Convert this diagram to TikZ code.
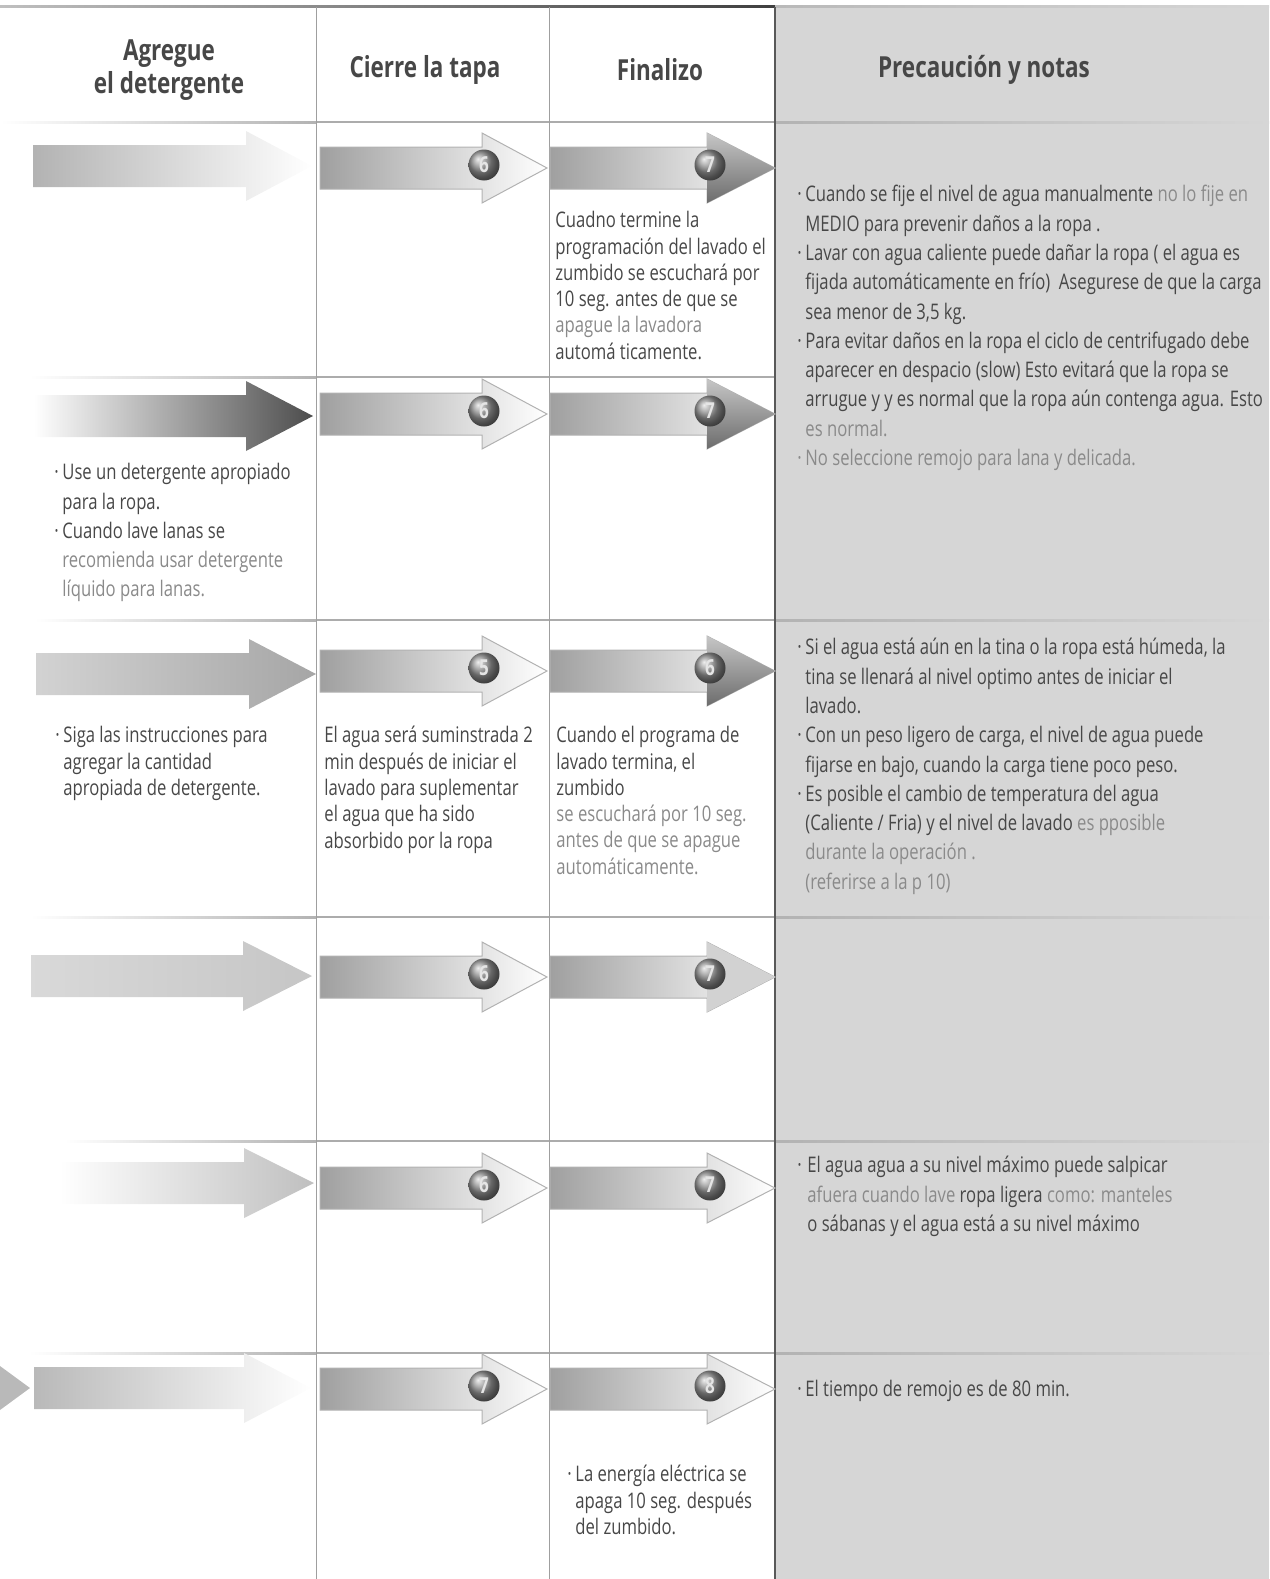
\documentclass[tikz,border=0pt]{standalone}
\usepackage{fontspec}
\setmainfont{Open Sans}[FakeStretch=0.775]
\definecolor{notegray}{HTML}{D6D6D6}
\definecolor{inkgray}{HTML}{474747}
\definecolor{softgray}{HTML}{8A8A8A}
\newcommand{\bul}{\makebox[4pt][l]{·}}
\newcommand{\ind}{\hspace*{4pt}}

\begin{document}
\begin{tikzpicture}[x=0.5pt, y=-0.5pt,
    vrule/.style={draw=gray!75, line width=0.5pt},
    hrule/.style={draw=gray!65, line width=0.8pt},
    head/.style={text=inkgray, font=\bfseries\fontsize{14.5}{16.5}\selectfont, align=center},
    note/.style={anchor=north west, inner sep=0pt, align=left, text=inkgray, font=\fontsize{10.75}{14.65}\selectfont},
    cell/.style={note, font=\fontsize{10.75}{13.15}\selectfont},
    stepshape/.style={left color=gray!75, right color=white, draw=gray!60, line width=0.5pt},
    darkhead/.style={top color=gray!45, bottom color=gray!85!black},
    lighthead/.style={fill=gray!35},
    plainhead/.style={},
    badge/.style={circle, inner sep=0pt, minimum size=15.5pt, shade, ball color=gray!85,
                  text=white!80!gray, font=\bfseries\fontsize{11}{11}\selectfont}]
  \useasboundingbox (0,0) rectangle (1269,1579);

  % notes column
  \fill[notegray] (775,7) rectangle (1269,1579);

  % rules
  \shade[left color=gray!50, right color=black!75] (0,5) rectangle (775,7);
  \shade[left color=gray!55, right color=notegray] (775,5) rectangle (1269,7);
  \shade[left color=white, right color=gray!60] (0,121) rectangle (316,123);
  \draw[hrule] (316,122) -- (775,122);
  \shade[left color=gray!60, middle color=black!80, right color=notegray] (775,121) rectangle (1269,123);
  \foreach \y/\s in {377/30, 620/35, 917/31, 1141/65, 1353/29}{
    \shade[left color=white, right color=gray!60] (\s,\y-1) rectangle (316,\y+1);
    \draw[hrule] (316,\y) -- (775,\y);
  }
  \foreach \y in {620, 917, 1141, 1353}
    \shade[left color=gray!60, middle color=black!80, right color=notegray] (775,\y-1) rectangle (1269,\y+1);
  \draw[vrule] (316,7) -- (316,1579);
  \draw[vrule] (549,7) -- (549,1579);
  \draw[line width=0.9pt, black!65] (775,7) -- (775,1579);

  % headings
  \node[head] (hAdd) at (169,70) {Agregue\\el detergente};
  \node[head] (hLid) at (425,70) {Cierre la tapa};
  \node[head] (hEnd) at (660,70) {Finalizo};
  \node[head] (hNotes) at (984,70) {Precaución y notas};

  % first column arrows
  \shade[left color=gray!60, right color=white] (33,145) -- (246,145) -- (246,131) -- (312,166) -- (246,201) -- (246,187) -- (33,187) -- cycle;
  \shade[left color=white, right color=gray!60!black] (34,395) -- (246,395) -- (246,381) -- (313,416) -- (246,451) -- (246,437) -- (34,437) -- cycle;
  \shade[left color=gray!35, right color=gray!70] (36,653) -- (249,653) -- (249,639) -- (316,674) -- (249,709) -- (249,695) -- (36,695) -- cycle;
  \shade[left color=gray!30, right color=gray!45] (31,955) -- (243,955) -- (243,941) -- (312,976) -- (243,1011) -- (243,997) -- (31,997) -- cycle;
  \shade[left color=white, right color=gray!50] (60,1162) -- (244,1162) -- (244,1148) -- (314,1183) -- (244,1218) -- (244,1204) -- (60,1204) -- cycle;
  \shade[left color=gray!55, right color=white] (34,1367) -- (244,1367) -- (244,1353) -- (311,1388) -- (244,1423) -- (244,1409) -- (34,1409) -- cycle;
  \fill[gray!55] (0,1366) -- (30,1388) -- (0,1410) -- cycle;

  % step arrows with numbers
  \foreach \t/\a/\b/\hd [count=\r] in {147/6/7/darkhead, 393/6/7/darkhead, 650/5/6/darkhead,
                                      956/6/7/lighthead, 1167/6/7/plainhead, 1368/7/8/plainhead}{
    \shadedraw[stepshape] (320,\t) -- (482,\t) -- (482,\t-14) -- (547,\t+21) -- (482,\t+56) -- (482,\t+42) -- (320,\t+42) -- cycle;
    \shadedraw[stepshape] (550,\t) -- (707,\t) -- (707,\t-14) -- (775,\t+21) -- (707,\t+56) -- (707,\t+42) -- (550,\t+42) -- cycle;
    \path[\hd] (707,\t-14) -- (775,\t+21) -- (707,\t+56) -- cycle;
    \node[badge] (lid\r) at (484,\t+18) {\a};
    \node[badge] (end\r) at (710,\t+18) {\b};
  }

  % texts
  \node[cell] (fin1) at (555,211) {Cuadno termine la\\programación del lavado el\\zumbido se escuchará por\\10 seg. antes de que se\\\textcolor{softgray}{apague la lavadora}\\automá ticamente.};
  \node[note] (nota1) at (797,185) {\bul Cuando se fije el nivel de agua manualmente \textcolor{softgray}{no lo fije en}\\
    \ind MEDIO para prevenir daños a la ropa .\\
    \bul Lavar con agua caliente puede dañar la ropa ( el agua es\\
    \ind fijada automáticamente en frío)\ \ Asegurese de que la carga\\
    \ind sea menor de 3,5 kg.\\
    \bul Para evitar daños en la ropa el ciclo de centrifugado debe\\
    \ind aparecer en despacio (slow) Esto evitará que la ropa se\\
    \ind arrugue y y es normal que la ropa aún contenga agua. Esto\\
    \ind \textcolor{softgray}{es normal.}\\
    \textcolor{softgray}{\bul No seleccione remojo para lana y delicada.}};
  \node[note] (add2) at (54,463) {\bul Use un detergente apropiado\\\ind para la ropa.\\\bul Cuando lave lanas se\\
    \ind\textcolor{softgray}{recomienda usar detergente}\\\ind\textcolor{softgray}{líquido para lanas.}};
  \node[cell] (add3) at (55,726) {\bul Siga las instrucciones para\\\ind agregar la cantidad\\\ind apropiada de detergente.};
  \node[cell] (lid3t) at (324,726) {El agua será suminstrada 2\\min después de iniciar el\\lavado para suplementar\\el agua que ha sido\\absorbido por la ropa};
  \node[cell] (fin3) at (556,726) {Cuando el programa de\\lavado termina, el\\zumbido\\\textcolor{softgray}{se escuchará por 10 seg.}\\\textcolor{softgray}{antes de que se apague}\\\textcolor{softgray}{automáticamente.}};
  \node[note] (nota3) at (797,638) {\bul Si el agua está aún en la tina o la ropa está húmeda, la\\
    \ind tina se llenará al nivel optimo antes de iniciar el\\
    \ind lavado.\\
    \bul Con un peso ligero de carga, el nivel de agua puede\\
    \ind fijarse en bajo, cuando la carga tiene poco peso.\\
    \bul Es posible el cambio de temperatura del agua\\
    \ind (Caliente / Fria) y el nivel de lavado \textcolor{softgray}{es pposible}\\
    \ind\textcolor{softgray}{durante la operación .}\\
    \ind\textcolor{softgray}{(referirse a la p 10)}};
  \node[note] (nota5) at (797,1156) {\bul\hspace{1pt}El agua agua a su nivel máximo puede salpicar\\
    \hspace*{5pt}\textcolor{softgray}{afuera cuando lave} ropa ligera \textcolor{softgray}{como: manteles}\\
    \hspace*{5pt}o sábanas y el agua está a su nivel máximo};
  \node[note] (nota6) at (797,1380) {\bul El tiempo de remojo es de 80 min.};
  \node[cell] (fin6) at (567,1465) {\bul La energía eléctrica se\\\ind apaga 10 seg. después\\\ind del zumbido.};
\end{tikzpicture}
\end{document}
